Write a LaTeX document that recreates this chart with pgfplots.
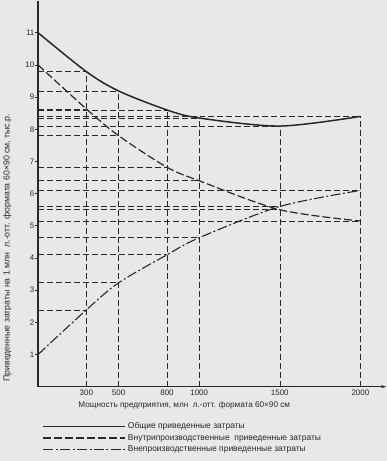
\documentclass[border=0pt]{standalone}
\usepackage{fontspec}
\setmainfont{Liberation Sans}
\usepackage{pgfplots}
\pgfplotsset{compat=1.18}
\usetikzlibrary{backgrounds, arrows.meta}
\definecolor{paper}{RGB}{232,232,230}
\definecolor{ink}{RGB}{40,40,40}

\pgfplotstableread{
x total inner outer
0 11.0 10.0 1.0
300 9.79 8.63 2.39
500 9.19 7.80 3.23
800 8.60 6.82 4.10
1000 8.35 6.40 4.63
1500 8.10 5.50 5.60
2000 8.40 5.15 6.10
}\data

\begin{document}
\begin{tikzpicture}[show background rectangle, background rectangle/.style={fill=paper, draw=none}, inner frame sep=0pt]
\begin{axis}[
  scale only axis, width=348bp, height=386bp,
  xmin=0, xmax=2160, ymin=0, ymax=12,
  axis x line=bottom, axis y line=left,
  axis line style={ink, line width=1.1pt},
  y axis line style={-},
  x axis line style={-{Stealth[length=5pt, width=3pt]}},
  xtick={300,500,800,1000,1500,2000},
  xtick style={draw=none},
  ytick={1,2,...,11},
  ytick style={ink, line width=0.8pt},
  tick align=outside, major tick length=3pt,
  tick label style={font=\fontsize{8}{9}\selectfont, text=ink},
  /pgf/number format/assume math mode=true,
  /pgf/number format/1000 sep={},
  xticklabel style={yshift=3pt},
  yticklabel style={inner xsep=0.5pt},
  xlabel={Мощность предприятия, млн\ \ л.-отт. формата 60×90 см},
  xlabel style={at={(axis description cs:0.42,0)}, anchor=north, yshift=-11pt, font=\fontsize{8.2}{9}\selectfont, text=ink},
  ylabel={Приведенные затраты на 1 млн\ \ л.-отт. формата 60×90 см, тыс.р.},
  ylabel style={at={(axis description cs:-0.088,0.36)}, anchor=center, font=\fontsize{8.8}{9}\selectfont, text=ink},
  clip=false,
  legend style={at={(axis description cs:0.012,-0.072)}, anchor=north west, draw=none, fill=none,
    font=\fontsize{8.5}{9}\selectfont, text=ink, row sep=0pt, inner xsep=0pt, inner ysep=6pt},
  legend cell align=left,
  legend image code/.code={\draw[#1] (0bp,0bp) -- (82bp,0bp);},
]
\tikzset{ref/.style={ink, line width=0.6pt, dash pattern=on 6pt off 3pt}}
% vertical reference lines (up to the total curve)
\addplot[ref, forget plot] coordinates {(300,0) (300,9.79)};
\addplot[ref, forget plot] coordinates {(500,0) (500,9.19)};
\addplot[ref, forget plot] coordinates {(800,0) (800,8.60)};
\addplot[ref, forget plot] coordinates {(1000,0) (1000,8.35)};
\addplot[ref, forget plot] coordinates {(1500,0) (1500,8.10)};
\addplot[ref, forget plot] coordinates {(2000,0) (2000,8.40)};
% horizontal reference lines
\addplot[ref, forget plot] coordinates {(0,9.79) (300,9.79)};
\addplot[ref, forget plot] coordinates {(0,9.19) (500,9.19)};
\addplot[ref, forget plot] coordinates {(0,8.60) (800,8.60)};
\addplot[ref, forget plot] coordinates {(0,8.35) (1000,8.35)};
\addplot[ref, forget plot] coordinates {(0,8.10) (1500,8.10)};
\addplot[ref, forget plot] coordinates {(0,8.40) (2000,8.40)};
\addplot[ref, forget plot] coordinates {(0,8.63) (300,8.63)};
\addplot[ref, forget plot] coordinates {(0,7.80) (500,7.80)};
\addplot[ref, forget plot] coordinates {(0,6.82) (800,6.82)};
\addplot[ref, forget plot] coordinates {(0,6.40) (1000,6.40)};
\addplot[ref, forget plot] coordinates {(0,5.50) (1500,5.50)};
\addplot[ref, forget plot] coordinates {(0,5.15) (2000,5.15)};
\addplot[ref, forget plot] coordinates {(0,2.39) (300,2.39)};
\addplot[ref, forget plot] coordinates {(0,3.23) (500,3.23)};
\addplot[ref, forget plot] coordinates {(0,4.10) (800,4.10)};
\addplot[ref, forget plot] coordinates {(0,4.63) (1000,4.63)};
\addplot[ref, forget plot] coordinates {(0,5.60) (1500,5.60)};
\addplot[ref, forget plot] coordinates {(0,6.10) (2000,6.10)};
% curves
\addplot[ink, line width=1.5pt, smooth] table[x=x, y=total] {\data};
\addlegendentry{Общие приведенные затраты}
\addplot[ink, line width=1.2pt, smooth, dash pattern=on 8pt off 3pt] table[x=x, y=inner] {\data};
\addlegendentry{Внутрипроизводственные\ \ приведенные затраты}
\addplot[ink, line width=1.1pt, smooth, dash pattern=on 10pt off 2.5pt on 2pt off 2.5pt] table[x=x, y=outer] {\data};
\addlegendentry{Внепроизводственные приведенные затраты}
\end{axis}
\end{tikzpicture}
\end{document}
